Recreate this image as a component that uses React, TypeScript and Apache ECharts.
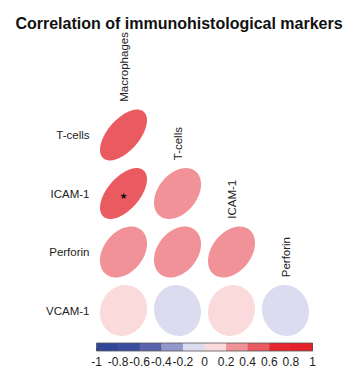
import React, { useEffect, useRef } from "react";
import * as echarts from "echarts";

const title = "Correlation of immunohistological markers";
const columns = ["Macrophages", "T-cells", "ICAM-1", "Perforin"];
const rows = ["T-cells", "ICAM-1", "Perforin", "VCAM-1"];

// lower-triangle correlations, one array per row (values for columns left to right)
const corrTcells = [0.58];
const corrICAM1 = [0.56, 0.36];
const corrPerforin = [0.33, 0.31, 0.35];
const corrVCAM1 = [0.08, -0.06, 0.07, -0.05];
const corrRows = [corrTcells, corrICAM1, corrPerforin, corrVCAM1];

// significant cells [columnIndex, rowIndex]
const significant = [[0, 1]];

// colour bar: 10 bins from -1 to 1
const barTicks = [-1, -0.8, -0.6, -0.4, -0.2, 0, 0.2, 0.4, 0.6, 0.8, 1];
const barColors = [
  "#2f4699",
  "#3a4ea0",
  "#5a62ab",
  "#9297cc",
  "#dcdcf0",
  "#fadadb",
  "#f09297",
  "#ea5a61",
  "#e5262f",
  "#e4202a",
];

const FONT = "'Liberation Sans', Arial, Helvetica, sans-serif";

function colorFor(r: number): string {
  const idx = Math.max(0, Math.min(barColors.length - 1, Math.floor((r + 1) / 0.2 + 1e-9)));
  return barColors[idx];
}

export default function App() {
  const ref = useRef<HTMLDivElement>(null);

  useEffect(() => {
    if (!ref.current) return;
    const chart = echarts.init(ref.current, undefined, { renderer: "svg" });

    const cellData: any[] = [];
    corrRows.forEach((vals, ri) => {
      vals.forEach((v, ci) => {
        const sig = significant.some((s) => s[0] === ci && s[1] === ri) ? 1 : 0;
        cellData.push([ci, ri, v, sig]);
      });
    });

    const colLabelData = columns.map((c, i) => [i, i, c]);
    const barData = barColors.map((c, i) => [barTicks[i], barTicks[i + 1], i]);

    const option: any = {
      animation: false,
      backgroundColor: "#ffffff",
      title: {
        text: title,
        left: "center",
        top: 10,
        textStyle: { fontSize: 16, fontWeight: "bold", fontFamily: FONT, color: "#111" },
      },
      grid: [
        { left: 96.5, width: 216, top: 105.75, height: 234, containLabel: false },
        {
          left: 96.5,
          width: 216,
          top: 343,
          height: 8,
          show: false,
        },
      ],
      xAxis: [
        {
          gridIndex: 0,
          type: "category",
          data: columns,
          axisLine: { show: false },
          axisTick: { show: false },
          axisLabel: { show: false },
          splitLine: { show: false },
        },
        {
          gridIndex: 1,
          type: "value",
          min: -1,
          max: 1,
          interval: 0.2,
          axisLine: { show: false },
          axisTick: { show: true, inside: true, length: 3, lineStyle: { color: "#333", width: 1 } },
          axisLabel: {
            margin: 5,
            fontSize: 12,
            fontFamily: FONT,
            color: "#222",
            formatter: (v: number) => String(Math.round(v * 10) / 10),
          },
          splitLine: { show: false },
        },
      ],
      yAxis: [
        {
          gridIndex: 0,
          type: "category",
          data: rows,
          inverse: true,
          axisLine: { show: false },
          axisTick: { show: false },
          axisLabel: { margin: 7, fontSize: 11.5, fontFamily: FONT, color: "#222" },
          splitLine: { show: false },
        },
        {
          gridIndex: 1,
          type: "category",
          data: [""],
          show: false,
        },
      ],
      series: [
        {
          type: "custom",
          xAxisIndex: 0,
          yAxisIndex: 0,
          data: cellData,
          renderItem: (params: any, api: any) => {
            const ci = api.value(0);
            const ri = api.value(1);
            const r = api.value(2);
            const sig = api.value(3);
            const c = api.coord([ci, ri]);
            const size = api.size([1, 1]);
            const bw = size[0];
            const bh = size[1];
            const d = Math.acos(r);
            const s = 0.87 * 0.5;
            const pts: number[][] = [];
            const n = 120;
            for (let k = 0; k < n; k++) {
              const t = (2 * Math.PI * k) / n;
              const dx = Math.cos(t + d / 2) * s;
              const dy = Math.cos(t - d / 2) * s;
              pts.push([c[0] + dx * bw, c[1] - dy * bh]);
            }
            const children: any[] = [
              {
                type: "polygon",
                shape: { points: pts },
                style: { fill: colorFor(r), stroke: null },
              },
            ];
            if (sig) {
              children.push({
                type: "text",
                x: c[0],
                y: c[1] + 2,
                style: {
                  text: "\u2605",
                  fontSize: 9,
                  fontFamily: "'DejaVu Sans', sans-serif",
                  fill: "#111",
                  align: "center",
                  verticalAlign: "middle",
                },
              });
            }
            return { type: "group", children };
          },
        },
        {
          type: "custom",
          xAxisIndex: 0,
          yAxisIndex: 0,
          data: colLabelData,
          renderItem: (params: any, api: any) => {
            const ci = api.value(0);
            const ri = api.value(1);
            const name = columns[ci];
            const c = api.coord([ci, ri]);
            const bh = api.size([1, 1])[1];
            return {
              type: "text",
              x: c[0],
              y: c[1] - bh / 2 - 4,
              rotation: Math.PI / 2,
              style: {
                text: name,
                fontSize: 11.5,
                fontFamily: FONT,
                fill: "#222",
                align: "left",
                verticalAlign: "middle",
              },
            };
          },
        },
        {
          type: "custom",
          xAxisIndex: 1,
          yAxisIndex: 1,
          data: barData,
          z: 1,
          renderItem: (params: any, api: any) => {
            const lo = api.value(0);
            const hi = api.value(1);
            const idx = api.value(2);
            const x0 = api.coord([lo, 0])[0];
            const x1 = api.coord([hi, 0])[0];
            const cs = params.coordSys;
            return {
              type: "rect",
              shape: { x: x0, y: cs.y, width: x1 - x0 + 0.5, height: cs.height },
              style: { fill: barColors[idx], stroke: null },
            };
          },
        },
        {
          type: "custom",
          xAxisIndex: 1,
          yAxisIndex: 1,
          data: [[barTicks[0], barTicks[barTicks.length - 1]]],
          z: 3,
          renderItem: (params: any, api: any) => {
            const x0 = api.coord([api.value(0), 0])[0];
            const x1 = api.coord([api.value(1), 0])[0];
            const cs = params.coordSys;
            return {
              type: "rect",
              shape: { x: x0, y: cs.y, width: x1 - x0, height: cs.height },
              style: { fill: "none", stroke: "#555", lineWidth: 0.8 },
            };
          },
        },
      ],
    };

    chart.setOption(option);
    return () => {
      chart.dispose();
    };
  }, []);

  return (
    <div
      ref={ref}
      style={{ position: "absolute", left: 0, top: 0, width: 358, height: 388 }}
    />
  );
}
